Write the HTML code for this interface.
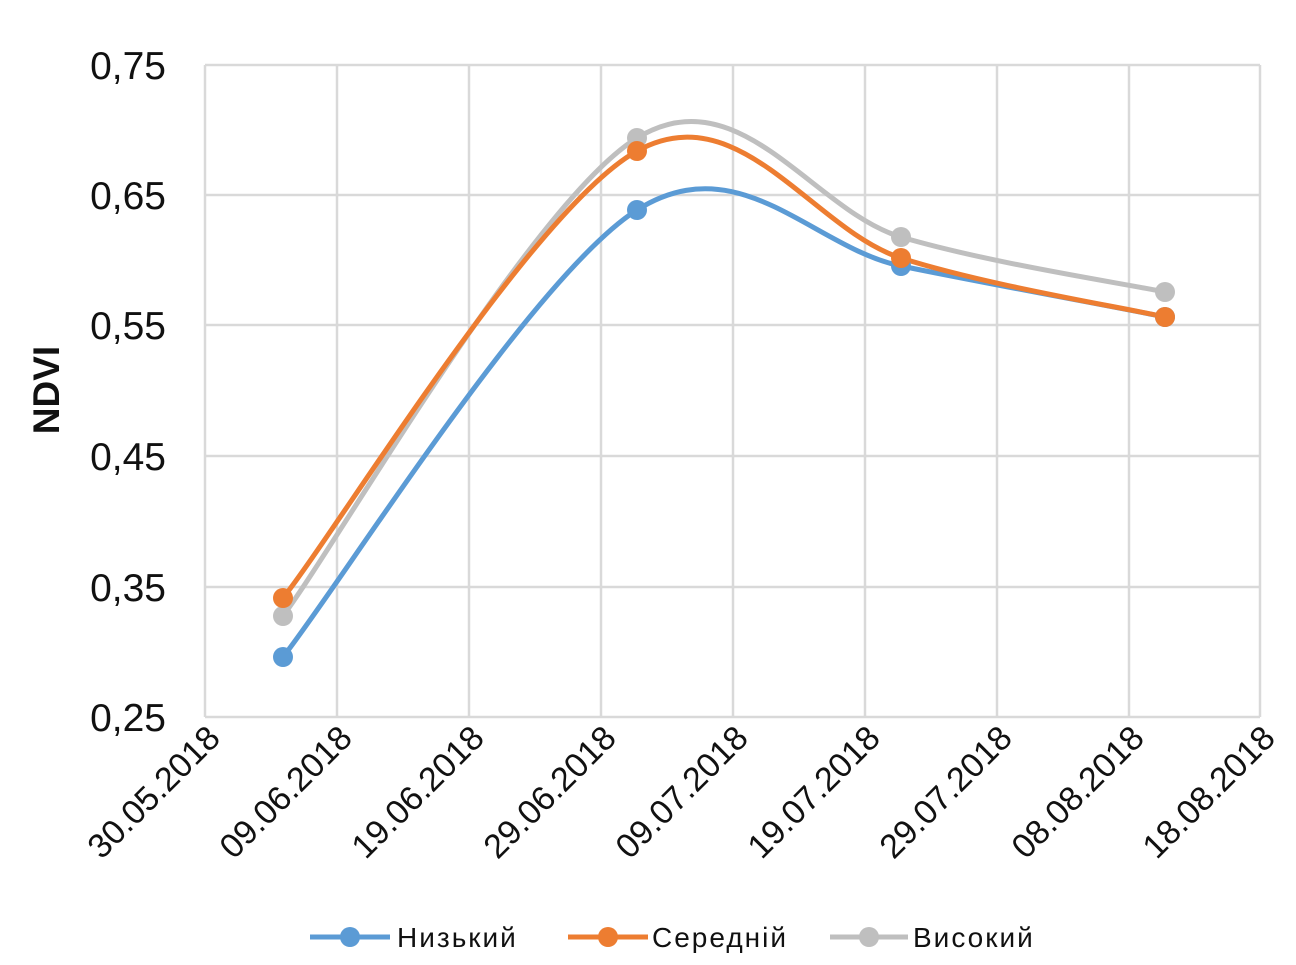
<!DOCTYPE html>
<html><head><meta charset="utf-8"><style>
html,body{margin:0;padding:0;background:#fff;}
svg text{font-family:"Liberation Sans","DejaVu Sans",sans-serif;}
</style></head><body>
<svg width="1296" height="960" viewBox="0 0 1296 960" xmlns="http://www.w3.org/2000/svg">
<rect width="1296" height="960" fill="#fff"/>
<g stroke="#d9d9d9" stroke-width="2.5" fill="none">
<line x1="205" y1="65" x2="1260" y2="65"/>
<line x1="205" y1="195" x2="1260" y2="195"/>
<line x1="205" y1="325" x2="1260" y2="325"/>
<line x1="205" y1="456" x2="1260" y2="456"/>
<line x1="205" y1="587" x2="1260" y2="587"/>
<line x1="205" y1="717" x2="1260" y2="717"/>
<line x1="205" y1="65" x2="205" y2="717"/>
<line x1="337" y1="65" x2="337" y2="717"/>
<line x1="469" y1="65" x2="469" y2="717"/>
<line x1="601" y1="65" x2="601" y2="717"/>
<line x1="733" y1="65" x2="733" y2="717"/>
<line x1="865" y1="65" x2="865" y2="717"/>
<line x1="997" y1="65" x2="997" y2="717"/>
<line x1="1129" y1="65" x2="1129" y2="717"/>
<line x1="1260" y1="65" x2="1260" y2="717"/>
</g>
<g font-size="39" fill="#111" text-anchor="end">
<text x="166" y="79">0,75</text>
<text x="166" y="209">0,65</text>
<text x="166" y="339">0,55</text>
<text x="166" y="470">0,45</text>
<text x="166" y="601">0,35</text>
<text x="166" y="731">0,25</text>
</g>
<text transform="translate(59,390) rotate(-90)" font-size="37" font-weight="bold" text-anchor="middle" fill="#111">NDVI</text>
<g font-size="34" fill="#111" text-anchor="end">
<text transform="translate(222,740) rotate(-45)">30.05.2018</text>
<text transform="translate(354,740) rotate(-45)">09.06.2018</text>
<text transform="translate(486,740) rotate(-45)">19.06.2018</text>
<text transform="translate(618,740) rotate(-45)">29.06.2018</text>
<text transform="translate(750,740) rotate(-45)">09.07.2018</text>
<text transform="translate(882,740) rotate(-45)">19.07.2018</text>
<text transform="translate(1014,740) rotate(-45)">29.07.2018</text>
<text transform="translate(1146,740) rotate(-45)">08.08.2018</text>
<text transform="translate(1277,740) rotate(-45)">18.08.2018</text>
</g>
<g fill="none" stroke-width="5" stroke-linecap="round">
<path stroke="#bfbfbf" d="M283,616 C342,536 534,201 637,138 C740,75 813,211 901,237 C989,263 1121,283 1165,292"/>
<path stroke="#5b9bd5" d="M283,657 C342,582 534,275 637,210 C740,145 813,248 901,266 C989,284 1121,308 1165,317"/>
<path stroke="#ed7d31" d="M283,598 C342,523 534,208 637,151 C740,94 813,230 901,258 C989,286 1121,307 1165,317"/>
</g>
<g fill="#bfbfbf"><circle cx="283" cy="616" r="10"/><circle cx="637" cy="138" r="10"/><circle cx="901" cy="237" r="10"/><circle cx="1165" cy="292" r="10"/></g>
<g fill="#5b9bd5"><circle cx="283" cy="657" r="10"/><circle cx="637" cy="210" r="10"/><circle cx="901" cy="266" r="10"/><circle cx="1165" cy="317" r="10"/></g>
<g fill="#ed7d31"><circle cx="283" cy="598" r="10"/><circle cx="637" cy="151" r="10"/><circle cx="901" cy="258" r="10"/><circle cx="1165" cy="317" r="10"/></g>
<g stroke-width="5">
<line x1="310" y1="937" x2="390" y2="937" stroke="#5b9bd5"/>
<line x1="568" y1="937" x2="648" y2="937" stroke="#ed7d31"/>
<line x1="830" y1="937" x2="908" y2="937" stroke="#bfbfbf"/>
</g>
<circle cx="350" cy="937" r="10" fill="#5b9bd5"/>
<circle cx="608" cy="937" r="10" fill="#ed7d31"/>
<circle cx="869" cy="937" r="10" fill="#bfbfbf"/>
<g font-size="28" fill="#111" letter-spacing="2">
<text x="397" y="947">Низький</text>
<text x="652" y="947">Середній</text>
<text x="913" y="947">Високий</text>
</g>
</svg>
</body></html>
